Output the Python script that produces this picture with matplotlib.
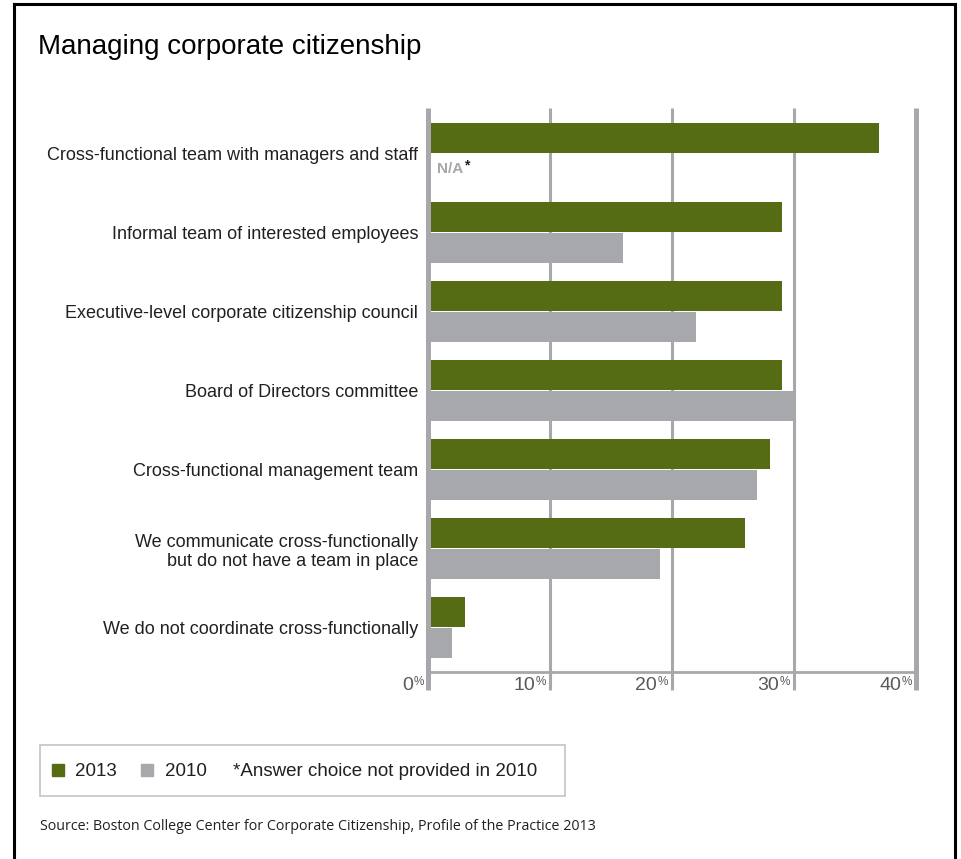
import numpy as np
import matplotlib
matplotlib.use("Agg")
import matplotlib.pyplot as plt
from matplotlib.patches import Rectangle
from matplotlib.lines import Line2D

plt.rcParams['font.family'] = ['Liberation Sans', 'DejaVu Sans']

# data
categories = [
    "Cross-functional team with managers and staff",
    "Informal team of interested employees",
    "Executive-level corporate citizenship council",
    "Board of Directors committee",
    "Cross-functional management team",
    "We communicate cross-functionally\nbut do not have a team in place",
    "We do not coordinate cross-functionally",
]
vals_2013 = [37, 29, 29, 29, 28, 26, 3]
vals_2010 = [np.nan, 16, 22, 30, 27, 19, 2]   # nan = N/A, not asked in 2010
ticks = [0, 10, 20, 30, 40]

green = "#556b14"
grey = "#a7a8ab"
txt = "#231f20"
W, H = 961, 859

fig = plt.figure(figsize=(W / 100, H / 100), dpi=100)
# axes box in pixels: left 428, right 916, top 108, bottom 672
ax = fig.add_axes([428 / W, 1 - 672 / H, 488 / W, 564 / H])

y = np.arange(len(categories))
bh = 0.38
ax.barh(y - 0.2, vals_2013, height=bh, color=green, zorder=2)
ax.barh(y + 0.19, vals_2010, height=bh, color=grey, zorder=2)

ax.set_xlim(0, 40)
ax.set_ylim(6.56, -0.58)

# vertical grid lines behind the bars, run a bit below the bottom line
for t in ticks:
    lw = 3.6 if t in (0, 40) else 2.2
    z = 3 if t == 0 else 1
    ax.axvline(t, ymin=-0.032, ymax=1, color=grey, lw=lw, zorder=z,
               clip_on=False, solid_capstyle='butt')

for s in ['top', 'left', 'right']:
    ax.spines[s].set_visible(False)
ax.spines['bottom'].set_color(grey)
ax.spines['bottom'].set_linewidth(2)

ax.set_xticks([])
ax.set_yticks(y)
ax.set_yticklabels(categories, fontsize=13, color=txt, linespacing=1.2)
ax.tick_params(axis='y', length=0, pad=7)

# tick labels with small raised % sign
for t in ticks:
    ax.annotate(str(t), xy=(t, 0), xycoords=('data', 'axes fraction'),
                xytext=(-15, -13), textcoords='offset pixels',
                ha='right', va='center', fontsize=14, color="#58595b")
    ax.annotate("%", xy=(t, 0), xycoords=('data', 'axes fraction'),
                xytext=(-4, -10), textcoords='offset pixels',
                ha='right', va='center', fontsize=8.5, color="#58595b")

# N/A note for the first row
na = ax.annotate("N/A", xy=(0, y[0] + 0.19), xytext=(9, 0), textcoords='offset pixels',
                 ha='left', va='center', fontsize=11, fontweight='bold', color=grey)
ax.annotate("*", xy=(1, 0.75), xycoords=na, xytext=(1, 0), textcoords='offset pixels',
            ha='left', va='center', fontsize=10, fontweight='bold', color=txt)

# title
fig.text(38 / W, 1 - 47 / H, "Managing corporate citizenship", fontsize=20,
         color="black", va='center', ha='left')

# legend box
fig.patches.append(Rectangle((40 / W, 1 - 796 / H), 525 / W, 51 / H,
                             transform=fig.transFigure, fill=False,
                             edgecolor="#c4c4c4", lw=1.2))
ly = 1 - 771 / H
fig.patches.append(Rectangle((52 / W, 1 - 776 / H), 12 / W, 12 / H,
                             transform=fig.transFigure, color=green))
fig.text(75 / W, ly, "2013", fontsize=13.5, va='center', color=txt)
fig.patches.append(Rectangle((141 / W, 1 - 776 / H), 12 / W, 12 / H,
                             transform=fig.transFigure, color=grey))
fig.text(165 / W, ly, "2010", fontsize=13.5, va='center', color=txt)
fig.text(233 / W, ly, "*Answer choice not provided in 2010", fontsize=13.5,
         va='center', color=txt)

# source
fig.text(40 / W, 1 - 827 / H,
         "Source: Boston College Center for Corporate Citizenship, Profile of the Practice 2013",
         fontsize=10.3, family=['Open Sans', 'DejaVu Sans'], va='center', color=txt)

# black frame (open at the bottom)
fx0, fx1, fy = 13.5 / W, 954.5 / W, 1 - 3.5 / H
for xs, ys in [([fx0, fx0], [0, fy]), ([fx0, fx1], [fy, fy]), ([fx1, fx1], [fy, 0])]:
    fig.lines.append(Line2D(xs, ys, transform=fig.transFigure, color="black", lw=2.2))

fig.savefig("out.png", dpi=100)
